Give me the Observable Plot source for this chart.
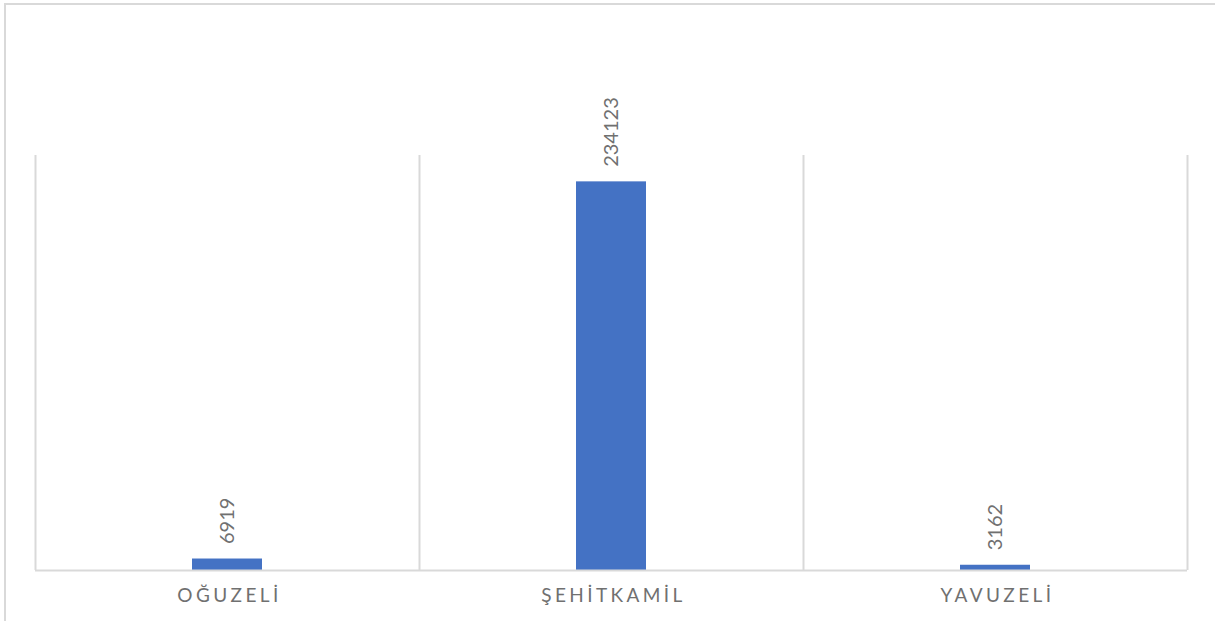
<!DOCTYPE html>
<html>
<head>
<meta charset="utf-8">
<script src="https://cdn.jsdelivr.net/npm/d3@7"></script>
<script src="https://cdn.jsdelivr.net/npm/@observablehq/plot@0.6"></script>
<style>
  html, body { margin: 0; padding: 0; background: #fff; overflow: hidden; }
  #frame { position: absolute; left: 4px; top: 3px; width: 1300px; height: 700px; border: 2px solid #d9d9d9; box-sizing: border-box; }
  #chart { position: absolute; left: 0; top: 0; }
  #chart g[aria-label="x-axis tick label"] text { letter-spacing: 3.4px; }
</style>
</head>
<body>
<div id="frame"></div>
<div id="chart"></div>
<script>
const categories = ["OĞUZELİ", "ŞEHİTKAMİL", "YAVUZELİ"];
const values = [6919, 234123, 3162];
const yMax = 250000;

const data = categories.map((c, i) => ({category: c, value: values[i]}));

const W = 1215, H = 621, ML = 35, MR = 28, MT = 155, MB = 51;
const half = (W - ML - MR) / categories.length / 2;

const chart = Plot.plot({
  width: W,
  height: H,
  marginLeft: ML,
  marginRight: MR,
  marginTop: MT,
  marginBottom: MB,
  style: {fontFamily: "Lato, 'Open Sans', sans-serif", background: "transparent", overflow: "visible"},
  x: {domain: categories, paddingInner: 0.818, paddingOuter: 0.409, align: 0.5, label: null, axis: null},
  y: {domain: [0, yMax], axis: null},
  marks: [
    Plot.ruleX(categories, {x: d => d, dx: -half, y1: 0, y2: yMax, stroke: "#d9d9d9", strokeWidth: 2}),
    Plot.ruleX(categories.slice(-1), {x: d => d, dx: half, y1: 0, y2: yMax, stroke: "#d9d9d9", strokeWidth: 2}),
    Plot.barY(data, {x: "category", y: "value", fill: "#4472C4"}),
    Plot.ruleY([0], {stroke: "#d9d9d9", strokeWidth: 2}),
    Plot.text(data, {x: "category", y: "value", text: d => String(d.value), rotate: -90, textAnchor: "start", dy: -15, fill: "#707070", fontSize: 20}),
    Plot.axisX({tickSize: 0, tickPadding: 18, fontSize: 19, fill: "#707070", dx: 2})
  ]
});
document.getElementById("chart").appendChild(chart);
</script>
</body>
</html>
